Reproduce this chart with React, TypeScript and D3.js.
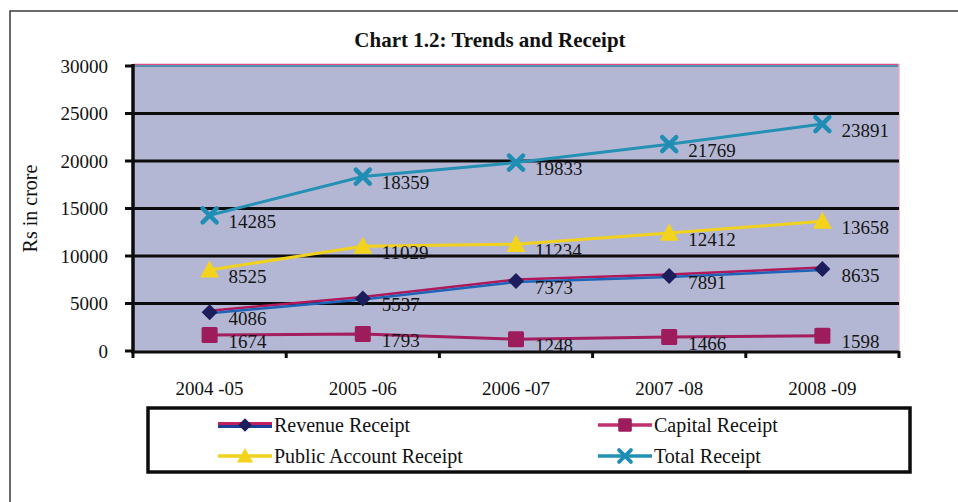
import React from "react";
import * as d3 from "d3";

const categories = ["2004 -05", "2005 -06", "2006 -07", "2007 -08", "2008 -09"];
const revenueReceipt = [4086, 5537, 7373, 7891, 8635];
const capitalReceipt = [1674, 1793, 1248, 1466, 1598];
const publicAccountReceipt = [8525, 11029, 11234, 12412, 13658];
const totalReceipt = [14285, 18359, 19833, 21769, 23891];
const yTicks = [0, 5000, 10000, 15000, 20000, 25000, 30000];
const seriesNames = ["Revenue Receipt", "Capital Receipt", "Public Account Receipt", "Total Receipt"];

const FONT = "'Liberation Serif', 'Times New Roman', serif";

type MarkerKind = "diamond" | "square" | "triangle" | "x";

function Marker({ kind, x, y, s = 1 }: { kind: MarkerKind; x: number; y: number; s?: number }) {
  if (kind === "diamond") {
    const r = 8 * s;
    return <path d={`M${x},${y - r}L${x + r},${y}L${x},${y + r}L${x - r},${y}Z`} fill="#1c1d5c" />;
  }
  if (kind === "square") {
    const r = 8 * s;
    return <rect x={x - r} y={y - r} width={2 * r} height={2 * r} rx={1.5} fill="#9c1c5c" />;
  }
  if (kind === "triangle") {
    const r = 9.5 * s;
    return <path d={`M${x},${y - r}L${x + r},${y + r * 0.8}L${x - r},${y + r * 0.8}Z`} fill="#f3d31c" />;
  }
  const r = 7 * s;
  return (
    <path
      d={`M${x - r},${y - r}L${x + r},${y + r}M${x - r},${y + r}L${x + r},${y - r}`}
      stroke="#1f8db4"
      strokeWidth={4.5 * s}
      strokeLinecap="round"
    />
  );
}

export default function App() {
  const left = 133, right = 899, top = 66, bottom = 351;
  const x = d3.scaleBand<string>().domain(categories).range([left, right]);
  const y = d3.scaleLinear().domain([0, 30000]).range([bottom, top]);
  const cx = (c: string) => (x(c) as number) + x.bandwidth() / 2;

  const series: { name: string; values: number[]; color: string; kind: MarkerKind }[] = [
    { name: seriesNames[1], values: capitalReceipt, color: "#a41d5e", kind: "square" },
    { name: seriesNames[0], values: revenueReceipt, color: "#1d64b8", kind: "diamond" },
    { name: seriesNames[2], values: publicAccountReceipt, color: "#f0d21e", kind: "triangle" },
    { name: seriesNames[3], values: totalReceipt, color: "#2390b4", kind: "x" },
  ];

  const line = d3
    .line<number>()
    .x((_, i) => cx(categories[i]))
    .y((v) => y(v));

  const legendItems: { name: string; kind: MarkerKind; color: string; lx: number; ly: number }[] = [
    { name: seriesNames[0], kind: "diamond", color: "#1d64b8", lx: 218, ly: 425 },
    { name: seriesNames[1], kind: "square", color: "#c0306e", lx: 598, ly: 425 },
    { name: seriesNames[2], kind: "triangle", color: "#f0d21e", lx: 218, ly: 456 },
    { name: seriesNames[3], kind: "x", color: "#2390b4", lx: 598, ly: 456 },
  ];

  return (
    <svg
      width={958}
      height={502}
      style={{ position: "absolute", left: 0, top: 0, background: "#ffffff" }}
      fontFamily={FONT}
    >
      {/* outer frame */}
      <path d="M10,502 L10,11 L958,11" fill="none" stroke="#3a3a3a" strokeWidth={1.5} />

      {/* title */}
      <text x={490} y={47} textAnchor="middle" fontSize={21} fontWeight="bold" fill="#111">
        Chart 1.2: Trends and Receipt
      </text>

      {/* y axis title */}
      <text
        transform={`translate(37,${(top + bottom) / 2}) rotate(-90)`}
        textAnchor="middle"
        fontSize={20}
        fill="#111"
      >
        Rs in crore
      </text>

      {/* plot background */}
      <rect x={left} y={top} width={right - left} height={bottom - top} fill="#b4b7d4" />
      <line x1={left} x2={right} y1={top - 1.5} y2={top - 1.5} stroke="#d9508c" strokeWidth={1.5} />
      <line x1={left} x2={right} y1={top} y2={top} stroke="#2e7f9c" strokeWidth={1.5} />
      <line x1={right} x2={right} y1={top - 2} y2={bottom} stroke="#e3b2c4" strokeWidth={1.5} />

      {/* gridlines */}
      {yTicks.filter((t) => t > 0 && t < 30000).map((t) => (
        <line key={t} x1={left} x2={right} y1={y(t)} y2={y(t)} stroke="#0c0c0c" strokeWidth={3} />
      ))}

      {/* y tick labels & ticks */}
      {yTicks.map((t) => (
        <g key={"yt" + t}>
          <line x1={left - 8} x2={left} y1={y(t)} y2={y(t)} stroke="#0c0c0c" strokeWidth={3} />
          <text x={108} y={y(t)} dy="0.35em" textAnchor="end" fontSize={19} fill="#111">
            {t}
          </text>
        </g>
      ))}

      {/* axes */}
      <line x1={left} x2={left} y1={top - 2} y2={bottom + 1} stroke="#0c0c0c" strokeWidth={3.5} />
      <line x1={left - 2} x2={right} y1={bottom + 1} y2={bottom + 1} stroke="#0c0c0c" strokeWidth={3} />
      {categories.map((c) => (
        <line
          key={"xt" + c}
          x1={(x(c) as number) + x.bandwidth()}
          x2={(x(c) as number) + x.bandwidth()}
          y1={bottom}
          y2={bottom + 7}
          stroke="#0c0c0c"
          strokeWidth={3}
        />
      ))}
      <line x1={left} x2={left} y1={bottom} y2={bottom + 7} stroke="#0c0c0c" strokeWidth={3} />

      {/* x labels */}
      {categories.map((c) => (
        <text key={"xl" + c} x={cx(c)} y={395} textAnchor="middle" fontSize={19} fill="#111">
          {c}
        </text>
      ))}

      {/* series lines */}
      {series.map((s) =>
        s.kind === "diamond" ? (
          <g key={s.name}>
            <path d={line(s.values) as string} fill="none" stroke="#b0185a" strokeWidth={2.5} transform="translate(0,-1.5)" />
            <path d={line(s.values) as string} fill="none" stroke={s.color} strokeWidth={2.5} transform="translate(0,1)" />
          </g>
        ) : (
          <path key={s.name} d={line(s.values) as string} fill="none" stroke={s.color} strokeWidth={3} />
        )
      )}

      {/* markers and labels */}
      {series.map((s) => (
        <g key={"m" + s.name}>
          {s.values.map((v, i) => (
            <Marker key={i} kind={s.kind} x={cx(categories[i])} y={y(v)} />
          ))}
        </g>
      ))}
      {series.map((s) => (
        <g key={"l" + s.name}>
          {s.values.map((v, i) => (
            <text
              key={i}
              x={cx(categories[i]) + 19}
              y={y(v) + 6}
              dy="0.35em"
              fontSize={19}
              fill="#151515"
            >
              {v}
            </text>
          ))}
        </g>
      ))}

      {/* legend */}
      <rect x={148} y={408} width={762} height={64} fill="#ffffff" stroke="#0c0c0c" strokeWidth={3.5} />
      {legendItems.map((it) => (
        <g key={"lg" + it.name}>
          {it.kind === "diamond" ? (
            <>
              <line x1={it.lx} x2={it.lx + 54} y1={it.ly - 1.5} y2={it.ly - 1.5} stroke="#c0205e" strokeWidth={3} />
              <line x1={it.lx} x2={it.lx + 54} y1={it.ly + 1.5} y2={it.ly + 1.5} stroke="#1d3f9a" strokeWidth={3} />
            </>
          ) : (
            <line x1={it.lx} x2={it.lx + 54} y1={it.ly} y2={it.ly} stroke={it.color} strokeWidth={3.5} />
          )}
          <Marker kind={it.kind} x={it.lx + 27} y={it.ly} s={0.85} />
          <text x={it.lx + 56} y={it.ly} dy="0.35em" fontSize={20} fill="#111">
            {it.name}
          </text>
        </g>
      ))}
    </svg>
  );
}
